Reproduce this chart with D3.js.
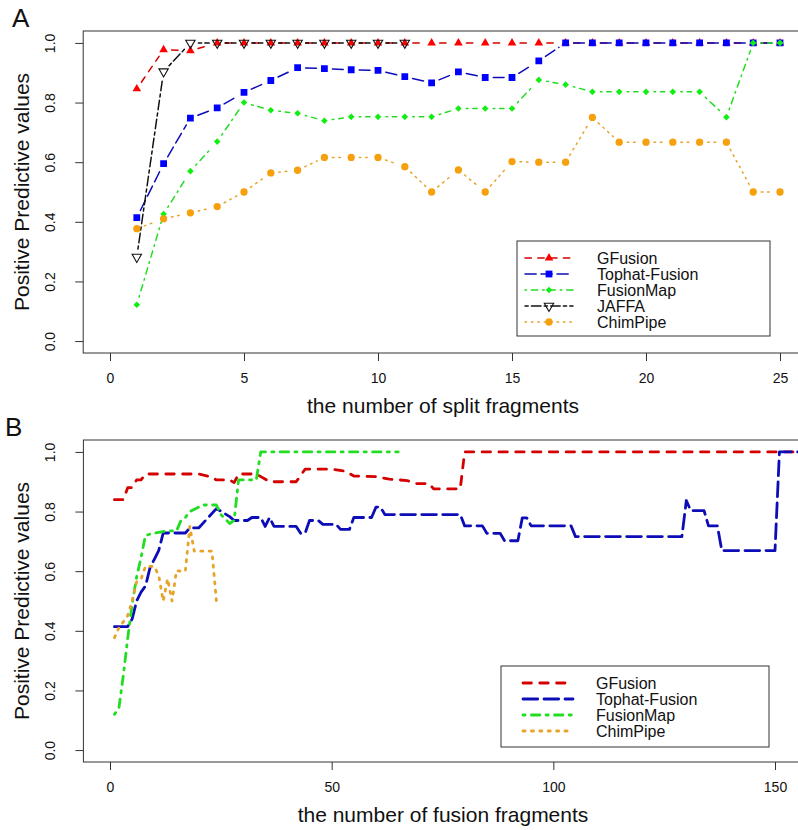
<!DOCTYPE html>
<html>
<head>
<meta charset="utf-8">
<script src="https://cdn.jsdelivr.net/npm/d3@7"></script>
<style>
body { margin: 0; background: #fff; }
svg { font-family: "Liberation Sans", Arial, sans-serif; }
</style>
</head>
<body>
<div id="container"></div>
<script>
// ---- panel A: PPV by number of split fragments ----
var splitX = [1, 2, 3, 4, 5, 6, 7, 8, 9, 10, 11, 12, 13, 14, 15, 16, 17, 18, 19, 20, 21, 22, 23, 24, 25];
var gfusionA = [0.846, 0.977, 0.974, 1, 1, 1, 1, 1, 1, 1, 1, 1, 1, 1, 1, 1, 1, 1, 1, 1, 1, 1, 1, 1, 1];
var tophatA = [0.414, 0.595, 0.748, 0.782, 0.834, 0.874, 0.917, 0.914, 0.91, 0.908, 0.887, 0.866, 0.903, 0.884, 0.884, 0.94, 1, 1, 1, 1, 1, 1, 1, 1, 1];
var fusionmapA = [0.122, 0.426, 0.57, 0.669, 0.8, 0.774, 0.764, 0.739, 0.752, 0.752, 0.752, 0.752, 0.78, 0.78, 0.78, 0.876, 0.86, 0.836, 0.836, 0.836, 0.836, 0.836, 0.751, 1, 1];
var jaffaA = [0.282, 0.904, 1, 1, 1, 1, 1, 1, 1, 1, 1];
var chimpipeA = [0.377, 0.41, 0.43, 0.451, 0.5, 0.564, 0.573, 0.616, 0.616, 0.616, 0.585, 0.5, 0.574, 0.5, 0.602, 0.6, 0.6, 0.75, 0.667, 0.667, 0.667, 0.667, 0.667, 0.5, 0.5];

// ---- panel B: PPV by number of fusion fragments ([x, ppv] breakpoints) ----
var gfusionB = [[1,.84],[3,.84],[4,.88],[5,.88],[6,.906],[7,.906],[8,.926],[20,.926],[23,.915],[24,.906],[27,.906],[28,.897],[29,.926],[33,.926],[36,.9],[42,.9],[44,.942],[50,.942],[53,.936],[55,.919],[60,.917],[63,.909],[67,.904],[69,.894],[72,.894],[73,.876],[79,.876],[80,1],[156,1]];
var tophatB = [[1,.414],[4,.414],[5,.44],[6,.5],[7,.53],[8,.55],[9,.61],[10,.64],[11,.67],[12,.728],[17,.728],[18,.745],[20,.745],[24,.81],[27,.783],[28,.77],[31,.77],[32,.78],[34,.78],[35,.75],[36,.78],[37,.75],[42,.75],[43,.727],[44,.727],[45,.77],[47,.77],[48,.757],[51,.757],[52,.74],[54,.74],[55,.78],[59,.78],[60,.815],[61,.815],[62,.79],[79,.79],[80,.752],[84,.752],[85,.727],[88,.727],[89,.702],[92,.702],[93,.779],[94,.779],[95,.752],[104,.752],[105,.716],[129,.716],[130,.837],[131,.803],[134,.803],[135,.752],[137,.752],[138,.669],[150,.669],[151,1],[156,1]];
var fusionmapB = [[1,.12],[2,.14],[3,.25],[4,.375],[5,.49],[6,.58],[7,.645],[8,.72],[10,.728],[13,.735],[15,.735],[16,.77],[17,.78],[18,.8],[20,.815],[21,.822],[24,.822],[25,.79],[26,.775],[27,.76],[28,.77],[29,.906],[33,.906],[34,1],[65,1]];
var chimpipeBx = [1, 2, 3, 4, 5, 6, 7, 8, 9, 10, 11, 12, 13, 14, 15, 16, 17, 18, 19, 20, 21, 22, 23, 24];
var chimpipeB = [0.377, 0.41, 0.43, 0.451, 0.5, 0.564, 0.573, 0.616, 0.616, 0.616, 0.585, 0.5, 0.574, 0.5, 0.602, 0.6, 0.6, 0.75, 0.667, 0.667, 0.667, 0.667, 0.667, 0.5];

var yTicks = [0, 0.2, 0.4, 0.6, 0.8, 1.0];
var xTicksA = [0, 5, 10, 15, 20, 25];
var xTicksB = [0, 50, 100, 150];

var svg = d3.select("#container")
            .append("svg")
            .attr("width", 798)
            .attr("height", 830);
svg.append("rect").attr("width", 798).attr("height", 830).attr("fill", "#fff");

function panel(p) {
  var x = d3.scaleLinear().domain(p.xDomain).range([p.left, p.right]);
  var y = d3.scaleLinear().domain([-0.04, 1.04]).range([p.bottom, p.top]);

  svg.append("clipPath").attr("id", p.id + "clip")
    .append("rect")
    .attr("x", p.left).attr("y", p.top)
    .attr("width", p.right - p.left).attr("height", p.bottom - p.top);

  var xAxis = svg.append("g")
    .attr("transform", "translate(0," + p.bottom + ")")
    .call(d3.axisBottom(x).tickValues(p.xTicks).tickSize(8).tickPadding(12).tickFormat(d3.format("d")));
  xAxis.select(".domain").remove();
  xAxis.selectAll("line").attr("stroke", "#333");
  xAxis.selectAll("text").attr("font-size", 14).attr("fill", "#111")
    .attr("font-family", "Liberation Sans, Arial, sans-serif");

  var yAxis = svg.append("g")
    .attr("transform", "translate(" + p.left + ",0)")
    .call(d3.axisLeft(y).tickValues(yTicks).tickSize(8).tickFormat(d3.format(".1f")));
  yAxis.select(".domain").remove();
  yAxis.selectAll("line").attr("stroke", "#333");
  yAxis.selectAll("text")
    .attr("x", null).attr("dy", null)
    .attr("text-anchor", "middle")
    .attr("transform", "translate(-28,0) rotate(-90)")
    .attr("font-size", 14).attr("fill", "#111")
    .attr("font-family", "Liberation Sans, Arial, sans-serif");

  svg.append("rect")
    .attr("x", p.left).attr("y", p.top)
    .attr("width", p.right - p.left).attr("height", p.bottom - p.top)
    .attr("fill", "none").attr("stroke", "#333").attr("stroke-width", 1);

  svg.append("text")
    .attr("x", 443).attr("y", p.bottom + 60)
    .attr("text-anchor", "middle").attr("font-size", 21).attr("fill", "#111")
    .text(p.xTitle);

  svg.append("text")
    .attr("transform", "translate(29," + (p.top + p.bottom) / 2 + ") rotate(-90)")
    .attr("text-anchor", "middle").attr("font-size", 21).attr("fill", "#111")
    .text("Positive Predictive values");

  svg.append("text")
    .attr("x", p.tagX).attr("y", p.top - 4)
    .attr("font-size", 26).attr("fill", "#111")
    .text(p.tag);

  var g = svg.append("g").attr("clip-path", "url(#" + p.id + "clip)");
  return { x: x, y: y, g: g };
}

function symbolPath(type) {
  if (type == "triUp") return d3.symbol(d3.symbolTriangle, 32)();
  if (type == "triDown") return d3.symbol(d3.symbolTriangle, 38)();
  if (type == "square") return d3.symbol(d3.symbolSquare, 46)();
  if (type == "diamond") return d3.symbol(d3.symbolSquare, 22)();
  return d3.symbol(d3.symbolCircle, 42)();
}

function addMarker(g, px, py, s) {
  var rot = s.marker == "triDown" ? 180 : (s.marker == "diamond" ? 45 : 0);
  g.append("path")
    .attr("d", symbolPath(s.marker))
    .attr("transform", "translate(" + px + "," + py + ") rotate(" + rot + ")")
    .attr("fill", s.open ? "none" : s.fill)
    .attr("stroke", s.open ? "#111" : "none")
    .attr("stroke-width", 1.1);
}

// R type="b": segments stop short of the points
function drawTypeB(P, xs, vs, s) {
  var pts = xs.map(function(d, i) { return [P.x(d), P.y(vs[i])]; });
  var gap = 8;
  P.g.selectAll(null)
    .data(d3.pairs(pts))
    .enter().append("line")
      .each(function(d) {
        var dx = d[1][0] - d[0][0], dy = d[1][1] - d[0][1];
        var len = Math.sqrt(dx * dx + dy * dy);
        if (len <= 2 * gap) { d3.select(this).remove(); return; }
        var ux = dx / len, uy = dy / len;
        d3.select(this)
          .attr("x1", d[0][0] + ux * gap).attr("y1", d[0][1] + uy * gap)
          .attr("x2", d[1][0] - ux * gap).attr("y2", d[1][1] - uy * gap);
      })
      .attr("stroke", s.line)
      .attr("stroke-width", 1.5)
      .attr("stroke-linecap", "round")
      .attr("stroke-dasharray", s.dashA);
  pts.forEach(function(p) { addMarker(P.g, p[0], p[1], s); });
}

var sGF = { name: "GFusion", line: "#D40000", fill: "#FF0000", marker: "triUp", dashA: "6.4,6.4", dashB: "8.4,8.4" };
var sTH = { name: "Tophat-Fusion", line: "#0D0DB8", fill: "#0000FF", marker: "square", dashA: "11.2,4.8", dashB: "14.7,6.3" };
var sFM = { name: "FusionMap", line: "#22DD22", fill: "#11EE11", marker: "diamond", dashA: "1.6,4.8,6.4,4.8", dashB: "2.1,6.3,8.4,6.3" };
var sJA = { name: "JAFFA", line: "#111", fill: "none", open: true, marker: "triDown", dashA: "3.2,3.2,9.6,3.2" };
var sCP = { name: "ChimPipe", line: "#E8A42A", fill: "#F5A00C", marker: "circle", dashA: "1.6,4.8", dashB: "2.1,6.3" };

// ---------- panel A ----------
var A = panel({ id: "a", xDomain: [-1, 26], left: 83.2, right: 806.8, top: 31, bottom: 353,
  xTicks: xTicksA, xTitle: "the number of split fragments", tag: "A", tagX: 12 });

drawTypeB(A, splitX, gfusionA, sGF);
drawTypeB(A, splitX, tophatA, sTH);
drawTypeB(A, splitX, fusionmapA, sFM);
drawTypeB(A, splitX.slice(0, jaffaA.length), jaffaA, sJA);
drawTypeB(A, splitX, chimpipeA, sCP);

var legA = svg.append("g").attr("transform", "translate(517,241)");
legA.append("rect").attr("width", 253).attr("height", 95)
  .attr("fill", "#fff").attr("stroke", "#333").attr("stroke-width", 1);
[sGF, sTH, sFM, sJA, sCP].forEach(function(s, i) {
  var ry = 17 + i * 16;
  legA.append("line")
    .attr("x1", 8).attr("x2", 56).attr("y1", ry).attr("y2", ry)
    .attr("stroke", s.line).attr("stroke-width", 1.5)
    .attr("stroke-linecap", "round").attr("stroke-dasharray", s.dashA);
  addMarker(legA, 32, ry, s);
  legA.append("text").attr("x", 80).attr("y", ry + 6)
    .attr("font-size", 16).attr("fill", "#111").text(s.name);
});

// ---------- panel B ----------
var B = panel({ id: "b", xDomain: [-6, 156], left: 83.4, right: 801.6, top: 440, bottom: 762,
  xTicks: xTicksB, xTitle: "the number of fusion fragments", tag: "B", tagX: 5 });

var lineB = d3.line()
  .x(function(d) { return B.x(d[0]); })
  .y(function(d) { return B.y(d[1]); });

var seriesB = [
  { s: sGF, pts: gfusionB },
  { s: sTH, pts: tophatB },
  { s: sFM, pts: fusionmapB },
  { s: sCP, pts: chimpipeBx.map(function(d, i) { return [d, chimpipeB[i]]; }) }
];

B.g.selectAll(".lineB")
  .data(seriesB)
  .enter().append("path")
    .classed("lineB", true)
    .attr("d", function(d) { return lineB(d.pts); })
    .attr("fill", "none")
    .attr("stroke", function(d) { return d.s.line; })
    .attr("stroke-width", 2.8)
    .attr("stroke-linecap", "round")
    .attr("stroke-linejoin", "round")
    .attr("stroke-dasharray", function(d) { return d.s.dashB; });

var legB = svg.append("g").attr("transform", "translate(501,666)");
legB.append("rect").attr("width", 268).attr("height", 81)
  .attr("fill", "#fff").attr("stroke", "#333").attr("stroke-width", 1);
seriesB.forEach(function(d, i) {
  var ry = 17 + i * 16;
  legB.append("line")
    .attr("x1", 22).attr("x2", 72).attr("y1", ry).attr("y2", ry)
    .attr("stroke", d.s.line).attr("stroke-width", 2.8)
    .attr("stroke-linecap", "round").attr("stroke-dasharray", d.s.dashB);
  legB.append("text").attr("x", 95).attr("y", ry + 6)
    .attr("font-size", 16).attr("fill", "#111").text(d.s.name);
});
</script>
</body>
</html>
